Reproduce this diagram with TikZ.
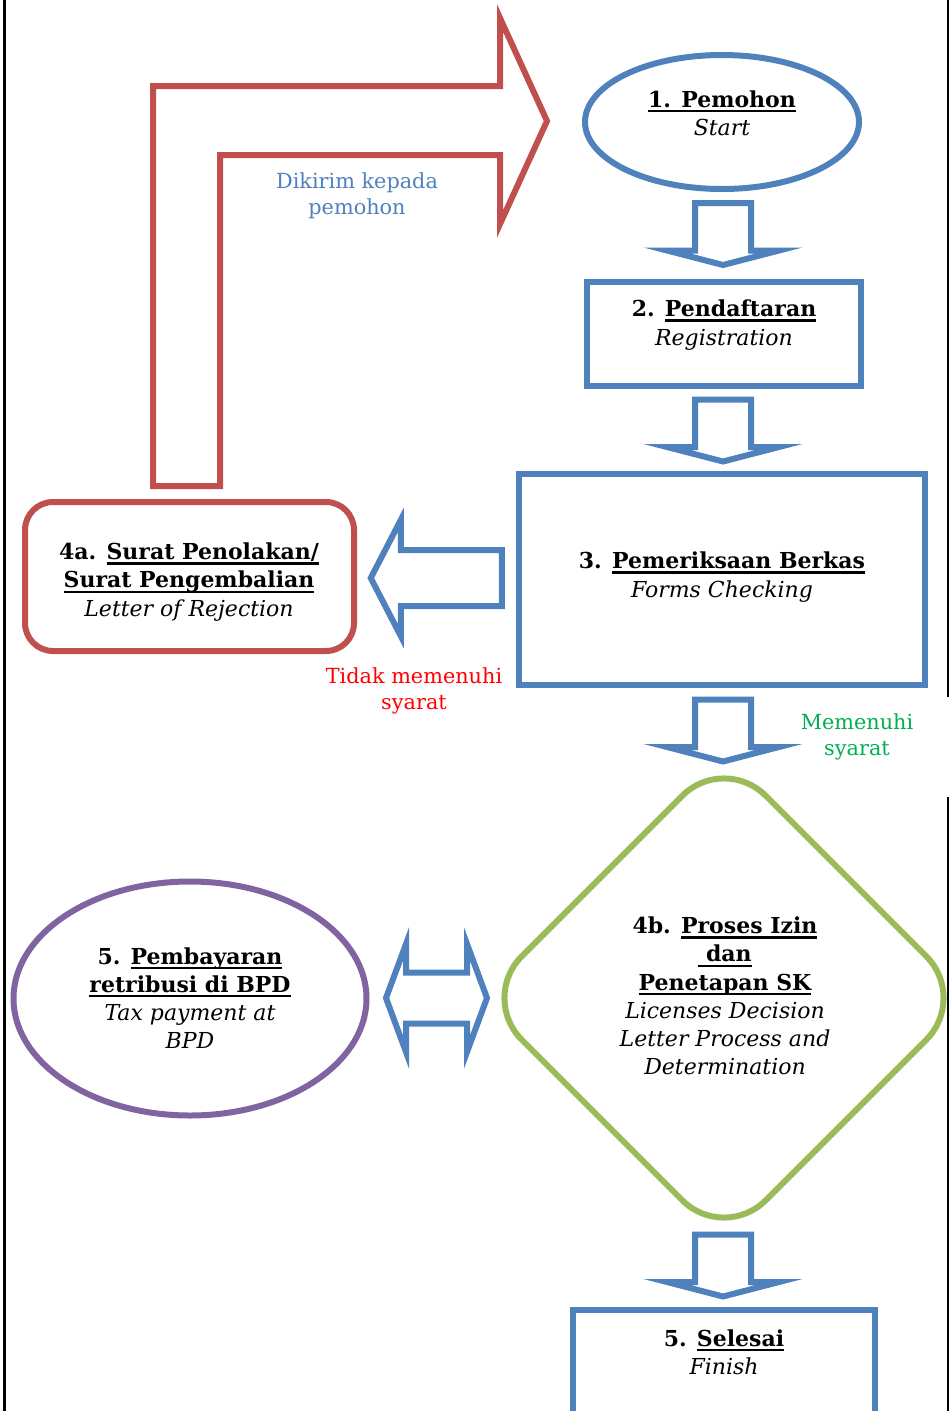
\documentclass[tikz,border=0pt]{standalone}
\usepackage{fontspec}
\setmainfont{DejaVu Serif}
\usetikzlibrary{shapes.geometric,calc}
\definecolor{cblue}{HTML}{4F81BD}
\definecolor{cred}{HTML}{C0504D}
\definecolor{cgreen}{HTML}{9BBB59}
\definecolor{cpurple}{HTML}{8064A2}
\definecolor{tred}{HTML}{FF0000}
\definecolor{tgreen}{HTML}{00B050}
\newsavebox\ulbox
\newcommand{\myul}[1]{\sbox\ulbox{#1}\rlap{\rule[-5pt]{\wd\ulbox}{2.4pt}}\usebox\ulbox}
\tikzset{
  shp/.style={line width=6pt, inner sep=0pt, outer sep=0pt},
  blk/.style={line width=6pt, line join=miter, draw=cblue, fill=white},
  ttl/.style={align=center, font=\fontsize{22}{28.2}\selectfont, inner sep=0pt},
  lbl/.style={align=center, font=\fontsize{20.8}{26}\selectfont, inner sep=0pt},
  downblk/.pic={\draw[blk] (-28,-30.5) -- (28,-30.5) -- (28,17) -- (56,17) -- (0,31.5) -- (-56,17) -- (-28,17) -- cycle;},
  leftblk/.pic={\draw[blk] (65.5,-28) -- (65.5,28) -- (-35.5,28) -- (-35.5,58) -- (-65.5,0) -- (-35.5,-58) -- (-35.5,-28) -- cycle;},
  dblblk/.pic={\draw[blk] (-50.5,0) -- (-30.5,-54) -- (-30.5,-25.5) -- (30.5,-25.5) -- (30.5,-54) -- (50.5,0) -- (30.5,54) -- (30.5,25.5) -- (-30.5,25.5) -- (-30.5,54) -- cycle;},
}
\begin{document}
\begin{tikzpicture}[x=1pt,y=-1pt]
\useasboundingbox (0,0) rectangle (949,1411);
\clip (0,0) rectangle (949,1411);
% frame lines
\draw[line width=2.5pt] (4.5,0) -- (4.5,1411);
\draw[line width=2pt] (948,0) -- (948,697);
\draw[line width=2pt] (948,797) -- (948,1411);

% shapes
\node[shp, ellipse, draw=cblue, minimum width=274pt, minimum height=134pt] (n1) at (722,122) {};
\node[shp, rectangle, draw=cblue, minimum width=274pt, minimum height=104pt] (n2) at (724,334) {};
\node[shp, rectangle, draw=cblue, minimum width=406pt, minimum height=211pt] (n3) at (721.5,579.5) {};
\node[shp, rectangle, rounded corners=28pt, draw=cred, minimum width=329pt, minimum height=149pt] (n4a) at (189.5,576.5) {};
\node[shp, diamond, rounded corners=59pt, draw=cgreen, minimum width=488pt, minimum height=488pt] (n4b) at (724,998) {};
\node[shp, ellipse, draw=cpurple, minimum width=353pt, minimum height=234pt] (n5) at (190,998.5) {};
\node[shp, rectangle, draw=cblue, minimum width=302pt, minimum height=154pt] (n6) at (724,1387) {};

% red bent arrow (returned to applicant)
\draw[line width=6pt, draw=cred, line join=miter] (153,486) -- (153,86) -- (500,86) -- (500,18) -- (547,121) -- (500,224) -- (500,155) -- (220,155) -- (220,486) -- cycle;

% blue block arrows
\pic at (723,233.5) {downblk};
\pic at (723,430) {downblk};
\pic at (723,730) {downblk};
\pic at (723,1265) {downblk};
\pic at ($(n4a.east)!0.5!(n3.west)$) {leftblk};
\pic at (436.5,998) {dblblk};

% texts
\node[ttl] (t1) at (722,113) {\myul{\textbf{1. Pemohon}}\\\textit{Start}};
\node[ttl] (t2) at (724,325) {\textbf{2. \myul{Pendaftaran}}\\\textit{Registration}};
\node[ttl] (t3) at (722,577) {\textbf{3. \myul{Pemeriksaan Berkas}}\\\textit{Forms Checking}};
\node[ttl] (t4a) at (189,582) {\textbf{4a. \myul{Surat Penolakan/}}\\\textbf{\myul{Surat Pengembalian}}\\\textit{Letter of Rejection}};
\node[ttl] (t5) at (190,998) {\textbf{5. \myul{Pembayaran}}\\\textbf{\myul{retribusi di BPD}}\\\textit{Tax payment at}\\\textit{BPD}};
\node[ttl] (t4b) at (725,996) {\textbf{4b. \myul{Proses Izin}}\\\textbf{\myul{\ dan}}\\\textbf{\myul{Penetapan SK}}\\\textit{Licenses Decision}\\\textit{Letter Process and}\\\textit{Determination}};
\node[ttl] (t6) at (724,1352) {\textbf{5. \myul{Selesai}}\\\textit{Finish}};

% labels
\node[lbl, text=cblue] (l1) at (357,196) {Dikirim kepada\\pemohon};
\node[lbl, text=tred] (l2) at (414,691) {Tidak memenuhi\\syarat};
\node[lbl, text=tgreen] (l3) at (857,737) {Memenuhi\\syarat};
\end{tikzpicture}
\end{document}
